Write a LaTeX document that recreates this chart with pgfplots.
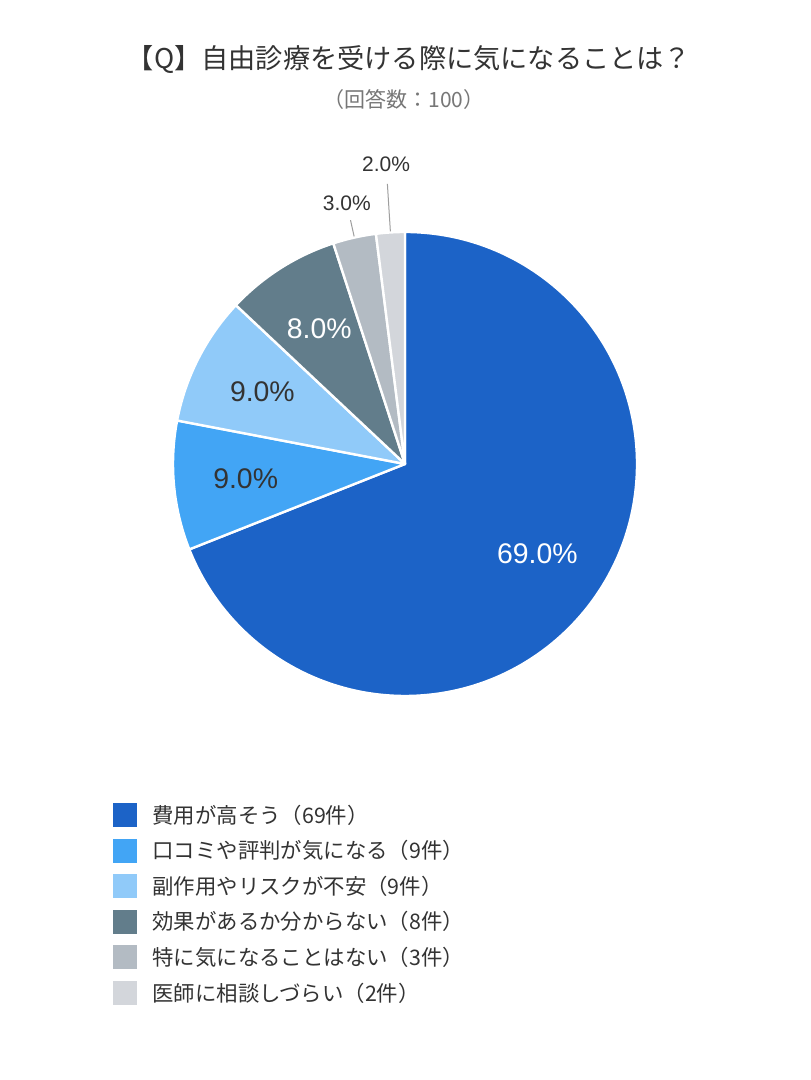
\documentclass[border=0pt]{standalone}
\usepackage{fontspec}
\setmainfont{Noto Sans CJK JP}
\newfontfamily\numfont{Liberation Sans}
\usepackage{pgfplots}
\usepackage{pgfplotstable}
\pgfplotsset{compat=1.18}

\definecolor{c1}{HTML}{1C63C7}
\definecolor{c2}{HTML}{42A5F5}
\definecolor{c3}{HTML}{90CAF9}
\definecolor{c4}{HTML}{627D8B}
\definecolor{c5}{HTML}{B3BBC3}
\definecolor{c6}{HTML}{D3D6DB}
\definecolor{ink}{HTML}{333333}
\definecolor{subink}{HTML}{777777}
\definecolor{leader}{HTML}{9E9E9E}

% name, count, fill, label colour, label radius, leader end radius, leader colour, label size (pt)
\pgfplotstableread[col sep=comma]{
name,value,fillc,textc,lr,le,lc,fs
費用が高そう（69件）,69,c1,white,0.69,1,none,14.2
口コミや評判が気になる（9件）,9,c2,ink,0.69,1,none,14.2
副作用やリスクが不安（9件）,9,c3,ink,0.69,1,none,14.2
効果があるか分からない（8件）,8,c4,white,0.69,1,none,14.2
特に気になることはない（3件）,3,c5,ink,1.15,1.077,leader,10.5
医師に相談しづらい（2件）,2,c6,ink,1.296,1.21,leader,10.5
}\piedata

% total and cumulative angles (clockwise from 12 o'clock)
\def\total{0}
\pgfplotsforeachungrouped \i in {0,...,5}{%
  \pgfplotstablegetelem{\i}{value}\of\piedata
  \pgfmathsetmacro\total{\total+\pgfplotsretval}%
}
\def\cum{0}
\pgfplotsforeachungrouped \i in {0,...,5}{%
  \pgfplotstablegetelem{\i}{value}\of\piedata \let\v\pgfplotsretval
  \pgfmathsetmacro\pa{90-360*(\cum/\total)}%
  \pgfmathsetmacro\cum{\cum+\v}%
  \pgfmathsetmacro\pb{90-360*(\cum/\total)}%
  \pgfmathsetmacro\pm{(\pa+\pb)/2}%
  \pgfmathsetmacro\pp{100*(\v/\total)}%
  \expandafter\xdef\csname pA\i\endcsname{\pa}%
  \expandafter\xdef\csname pB\i\endcsname{\pb}%
  \expandafter\xdef\csname pM\i\endcsname{\pm}%
  \expandafter\xdef\csname pV\i\endcsname{\pp}%
  \pgfplotstablegetelem{\i}{fillc}\of\piedata \expandafter\xdef\csname pC\i\endcsname{\pgfplotsretval}%
  \pgfplotstablegetelem{\i}{textc}\of\piedata \expandafter\xdef\csname pT\i\endcsname{\pgfplotsretval}%
  \pgfplotstablegetelem{\i}{lr}\of\piedata \expandafter\xdef\csname pR\i\endcsname{\pgfplotsretval}%
  \pgfplotstablegetelem{\i}{le}\of\piedata \expandafter\xdef\csname pE\i\endcsname{\pgfplotsretval}%
  \pgfplotstablegetelem{\i}{lc}\of\piedata \expandafter\xdef\csname pL\i\endcsname{\pgfplotsretval}%
  \pgfplotstablegetelem{\i}{fs}\of\piedata \expandafter\xdef\csname pF\i\endcsname{\pgfplotsretval}%
}

\begin{document}
\begin{tikzpicture}
\fill[white] (0,0) rectangle (405pt,540pt);
\path[use as bounding box] (0,0) rectangle (405pt,540pt);

\node[font=\fontsize{13.6}{16}\selectfont, text=ink] at (204.5pt,510pt)
  {【Q】自由診療を受ける際に気になることは？};
\node[font=\fontsize{10.5}{12}\selectfont, text=subink] at (202pt,490pt)
  {（回答数：100）};

\begin{axis}[
  hide axis,
  x=116pt, y=116pt,
  xmin=-1.4, xmax=1.4, ymin=-1.4, ymax=1.4,
  clip=false,
  anchor=origin, at={(202.5pt,308pt)},
]
\addplot[draw=none] coordinates {(0,0)};
\pgfplotsinvokeforeach{0,...,5}{
  \path[fill=\csname pC#1\endcsname, draw=white, line width=1.2pt, line join=round]
    (axis cs:0,0)
    -- (axis cs:{cos(\csname pA#1\endcsname)},{sin(\csname pA#1\endcsname)})
    arc[start angle=\csname pA#1\endcsname, end angle=\csname pB#1\endcsname, radius=116pt]
    -- cycle;
}
\pgfplotsinvokeforeach{0,...,5}{
  \draw[draw=\csname pL#1\endcsname, line width=0.5pt]
    (axis cs:{1.005*cos(\csname pM#1\endcsname)},{1.005*sin(\csname pM#1\endcsname)})
    -- (axis cs:{\csname pE#1\endcsname*cos(\csname pM#1\endcsname)},{\csname pE#1\endcsname*sin(\csname pM#1\endcsname)});
  \node[text=\csname pT#1\endcsname, font=\numfont\fontsize{\csname pF#1\endcsname}{16}\selectfont]
    at (axis cs:{\csname pR#1\endcsname*cos(\csname pM#1\endcsname)},{\csname pR#1\endcsname*sin(\csname pM#1\endcsname)})
    {\pgfmathprintnumber[assume math mode=true,fixed,fixed zerofill,precision=1]{\csname pV#1\endcsname}\%};
}
\end{axis}

% legend
\foreach \i in {0,...,5}{
  \pgfplotstablegetelem{\i}{name}\of\piedata
  \fill[fill=\csname pC\i\endcsname] (56.5pt,{132.5pt-17.8pt*\i-6pt}) rectangle ++(12pt,12pt);
  \node[anchor=west, inner sep=0pt, text=ink, font=\fontsize{10.7}{12}\selectfont]
    at (76pt,{132.5pt-17.8pt*\i}) {\pgfplotsretval};
}
\end{tikzpicture}
\end{document}
